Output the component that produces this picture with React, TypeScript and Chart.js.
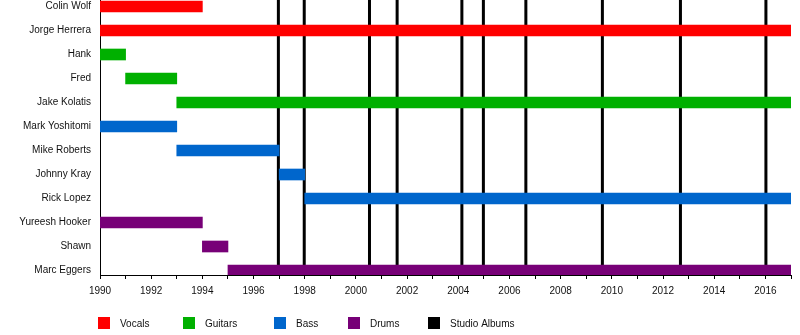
import { useEffect, useRef } from 'react';
import { Chart, registerables } from 'chart.js';

Chart.register(...registerables);

// Band members, top to bottom
const members = [
  'Colin Wolf',
  'Jorge Herrera',
  'Hank',
  'Fred',
  'Jake Kolatis',
  'Mark Yoshitomi',
  'Mike Roberts',
  'Johnny Kray',
  'Rick Lopez',
  'Yureesh Hooker',
  'Shawn',
  'Marc Eggers',
];

// Role of each member (index into roles)
const memberRole = [0, 0, 1, 1, 1, 2, 2, 2, 2, 3, 3, 3];

// Tenure of each member, in years
const startYears = [1990, 1990, 1990, 1991, 1993, 1990, 1993, 1997, 1998, 1990, 1994, 1995];
const endYears = [1994, 2017, 1991, 1993, 2017, 1993, 1997, 1998, 2017, 1994, 1995, 2017];

const roles = ['Vocals', 'Guitars', 'Bass', 'Drums'];
const roleColors = ['#ff0000', '#00b000', '#0066cc', '#770077'];

// Studio album release dates
const albumLabel = 'Studio Albums';
const albumColor = '#000000';
const albumYears = [1996.97, 1997.98, 2000.53, 2001.61, 2004.14, 2004.98, 2006.64, 2009.63, 2012.68, 2016.02];

const yearMin = 1990;
const yearMax = 2017;

const FONT = { family: '"Liberation Sans", Arial, Helvetica, sans-serif', size: 10 };

const albumLines = {
  id: 'albumLines',
  beforeDatasetsDraw(chart: any) {
    const { ctx, chartArea, scales } = chart;
    const x = scales.x;
    ctx.save();
    ctx.fillStyle = albumColor;
    for (const yr of albumYears) {
      const px = x.getPixelForValue(yr);
      ctx.fillRect(px - 1.5, chartArea.top, 3, chartArea.bottom - chartArea.top);
    }
    ctx.restore();
  },
};

// Legend row under the axis
const legendSlots = [98, 183, 274, 348, 428];
const legendRow = {
  id: 'legendRow',
  afterDraw(chart: any) {
    const { ctx } = chart;
    const labels = [...roles, albumLabel];
    const colors = [...roleColors, albumColor];
    ctx.save();
    ctx.font = `${FONT.size}px ${FONT.family}`;
    ctx.textBaseline = 'middle';
    ctx.textAlign = 'left';
    labels.forEach((label, i) => {
      const x = legendSlots[i];
      ctx.fillStyle = colors[i];
      ctx.fillRect(x, 317, 12, 12);
      ctx.fillStyle = '#111';
      ctx.fillText(label, x + 22, 324);
    });
    ctx.restore();
  },
};

export default function App() {
  const canvasRef = useRef<HTMLCanvasElement | null>(null);

  useEffect(() => {
    if (!canvasRef.current) return;

    const datasets = roles.map((role, r) => ({
      label: role,
      backgroundColor: roleColors[r],
      borderWidth: 0,
      barThickness: 11,
      grouped: false,
      data: members
        .map((_, i) => i)
        .filter((i) => memberRole[i] === r)
        .map((i) => ({ y: i, x: [startYears[i], endYears[i]] })),
    }));

    const chart = new Chart(canvasRef.current, {
      type: 'bar',
      data: { datasets } as any,
      plugins: [albumLines, legendRow],
      options: {
        indexAxis: 'y',
        animation: false,
        responsive: false,
        layout: { autoPadding: false, padding: { top: 0, right: 9, bottom: 0, left: 0 } },
        plugins: {
          legend: { display: false },
          tooltip: { enabled: false },
        },
        scales: {
          x: {
            type: 'linear',
            position: 'bottom',
            min: yearMin,
            max: yearMax,
            offset: false,
            afterFit(scale: any) {
              scale.height = 60;
              scale.paddingLeft = 0;
              scale.paddingRight = 0;
            },
            ticks: {
              stepSize: 1,
              autoSkip: false,
              maxRotation: 0,
              padding: 6,
              color: '#111',
              font: FONT,
              callback: (v: any) => (Number(v) % 2 === 0 ? String(v) : ''),
            },
            grid: {
              offset: false,
              drawOnChartArea: false,
              drawTicks: true,
              tickLength: 4,
              color: '#000',
            },
            border: { display: true, color: '#000', width: 1 },
          },
          y: {
            type: 'linear',
            reverse: true,
            offset: false,
            min: -0.2708,
            max: 11.1875,
            afterBuildTicks(scale: any) {
              scale.ticks = members.map((_, i) => ({ value: i }));
            },
            afterFit(scale: any) {
              scale.width = 100;
              scale.paddingTop = 0;
              scale.paddingBottom = 0;
            },
            ticks: {
              autoSkip: false,
              padding: 9,
              color: '#111',
              font: FONT,
              callback: (v: any) => members[v] ?? '',
            },
            grid: { display: true, offset: false, drawOnChartArea: false, drawTicks: false },
            border: { display: true, color: '#000', width: 1 },
          },
        },
      } as any,
    });

    return () => chart.destroy();
  }, []);

  return (
    <div style={{ position: 'absolute', left: 0, top: 0, width: 800, height: 335, background: '#fff' }}>
      <canvas ref={canvasRef} width={800} height={335} style={{ display: 'block' }} />
    </div>
  );
}
